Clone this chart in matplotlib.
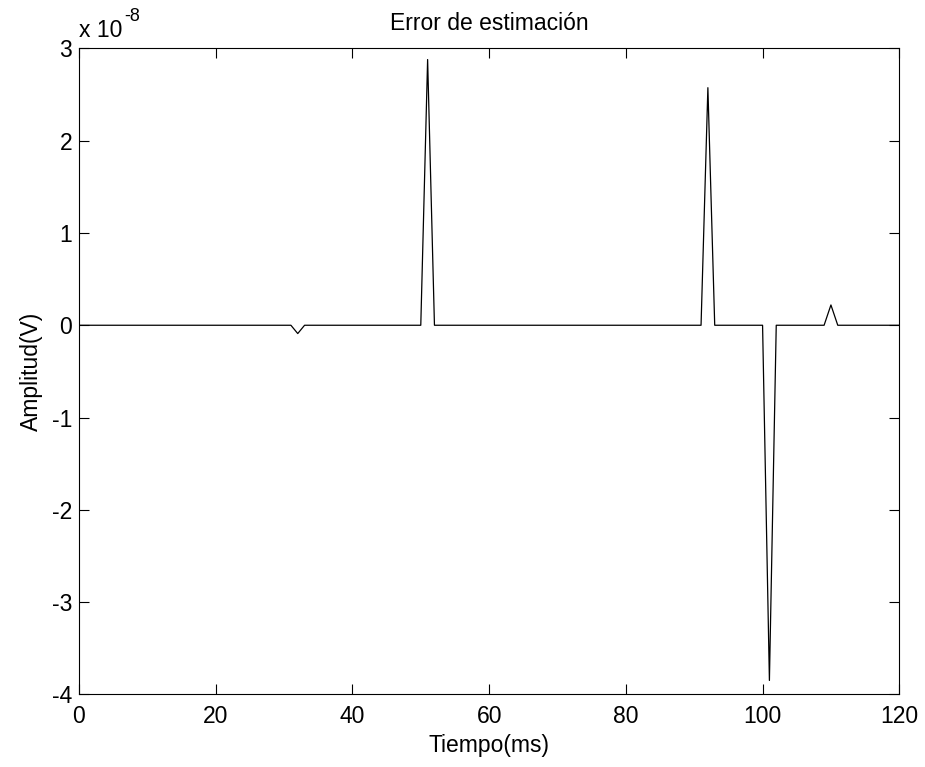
import numpy as np
import matplotlib
matplotlib.use("Agg")
import matplotlib.pyplot as plt

plt.rcParams['font.family'] = ['Liberation Sans', 'DejaVu Sans']
plt.rcParams['axes.unicode_minus'] = False

# Data (amplitude in units of 1e-8 V)
t_ms = np.arange(0, 121, 1)
spike_times = [32, 51, 92, 101, 110]
spike_values = [-0.09, 2.88, 2.575, -3.85, 0.22]
scale_exp = -8

amp = np.zeros_like(t_ms, dtype=float)
for ts, v in zip(spike_times, spike_values):
    amp[t_ms == ts] = v

x_ticks = [0, 20, 40, 60, 80, 100, 120]
y_ticks = [-4, -3, -2, -1, 0, 1, 2, 3]

FS = 16.5
fig = plt.figure(figsize=(9.25, 7.67), dpi=100)
ax = fig.add_axes([0.0854, 0.0948, 0.9722 - 0.0854, 0.9368 - 0.0948])
ax.plot(t_ms, amp, color='black', linewidth=0.9)
ax.set_xlim(0, 120)
ax.set_ylim(-4, 3)
ax.set_xticks(x_ticks)
ax.set_yticks(y_ticks)
ax.tick_params(direction='in', top=True, right=True, length=7, width=0.8,
               labelsize=FS)
ax.tick_params(axis='x', pad=8)
ax.tick_params(axis='y', pad=5)
for s in ax.spines.values():
    s.set_linewidth(0.8)
ax.set_xlabel('Tiempo(ms)', fontsize=FS, labelpad=4)
ax.set_ylabel('Amplitud(V)', fontsize=FS, labelpad=6)
ax.set_title('Error de estimación', fontsize=FS, pad=13)
t1 = ax.text(0.0, 1.017, 'x 10', transform=ax.transAxes,
             fontsize=FS, ha='left', va='baseline')
ax.annotate('%d' % scale_exp, xy=(1.0, 0.75), xycoords=t1,
            xytext=(1, 0), textcoords='offset points',
            fontsize=13, ha='left', va='bottom')

fig.savefig('out.png', dpi=100)
